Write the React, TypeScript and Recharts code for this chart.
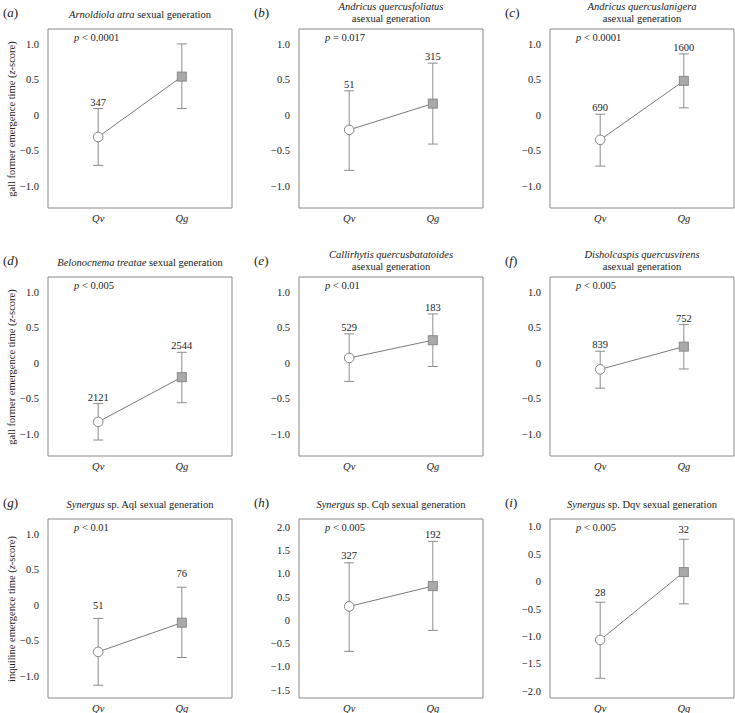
import React from "react";
import { ComposedChart, Line, XAxis, YAxis, ErrorBar, ReferenceArea } from "recharts";

const panelLetters = ["a", "b", "c", "d", "e", "f", "g", "h", "i"];
const titleItalic = [
  "Arnoldiola atra",
  "Andricus quercusfoliatus",
  "Andricus quercuslanigera",
  "Belonocnema treatae",
  "Callirhytis quercusbatatoides",
  "Disholcaspis quercusvirens",
  "Synergus",
  "Synergus",
  "Synergus",
];
const titleRest = [
  " sexual generation",
  "asexual generation",
  "asexual generation",
  " sexual generation",
  "asexual generation",
  "asexual generation",
  " sp. Aql sexual generation",
  " sp. Cqb sexual generation",
  " sp. Dqv sexual generation",
];
const twoLine = [false, true, true, false, true, true, false, false, false];
const pValues = ["< 0.0001", "= 0.017", "< 0.0001", "< 0.005", "< 0.01", "< 0.005", "< 0.01", "< 0.005", "< 0.005"];

const groups = ["Qv", "Qg"];
const meanQv = [-0.31, -0.21, -0.35, -0.83, 0.07, -0.09, -0.66, 0.295, -1.07];
const lowQv = [-0.71, -0.78, -0.72, -1.085, -0.26, -0.355, -1.13, -0.67, -1.77];
const highQv = [0.09, 0.34, 0.01, -0.57, 0.41, 0.165, -0.19, 1.23, -0.38];
const meanQg = [0.54, 0.16, 0.48, -0.2, 0.32, 0.23, -0.25, 0.73, 0.17];
const lowQg = [0.09, -0.41, 0.1, -0.56, -0.05, -0.085, -0.74, -0.22, -0.41];
const highQg = [1.0, 0.73, 0.86, 0.15, 0.69, 0.54, 0.25, 1.69, 0.77];
const nQv = [347, 51, 690, 2121, 529, 839, 51, 327, 28];
const nQg = [null, 315, 1600, 2544, 183, 752, 76, 192, 32];

const stdTicks = [-1, -0.5, 0, 0.5, 1];
const yTicks = [stdTicks, stdTicks, stdTicks, stdTicks, stdTicks, stdTicks, stdTicks,
  [-1.5, -1, -0.5, 0, 0.5, 1, 1.5, 2], [-2, -1.5, -1, -0.5, 0, 0.5, 1]];
const yDomains = [
  [-1.31, 1.21], [-1.31, 1.21], [-1.31, 1.21],
  [-1.31, 1.21], [-1.31, 1.21], [-1.31, 1.21],
  [-1.31, 1.21], [-1.67, 2.17], [-2.13, 1.14],
];
const rowYLabels = ["gall former emergence time", "gall former emergence time", "inquiline emergence time"];

// label distance above whisker cap (px)
const nOffset = [6.5, 6.5, 6.5, 6.5, 6.5, 6.5, 13.5, 7.5, 9.5];

const FONT = '"Liberation Serif", "DejaVu Serif", serif';
const colLeft = [0, 251, 502];
const rowTop = [0, 248, 490];
const BOX_L = 48;
const BOX_T = 29;
const CW = 236;
const CH = 233;
const XMIN = -0.6;
const XMAX = 1.6;

const fmtY = (v: number) => (v === 0 ? "0" : v.toFixed(1).replace("-", "\u2212"));

function Panel({ i }: { i: number }) {
  const data = [
    { x: 0, mean: meanQv[i], high: highQv[i], err: [meanQv[i] - lowQv[i], highQv[i] - meanQv[i]], n: nQv[i] },
    { x: 1, mean: meanQg[i], high: highQg[i], err: [meanQg[i] - lowQg[i], highQg[i] - meanQg[i]], n: nQg[i] },
  ];
  const [ymin, ymax] = yDomains[i];
  const row = Math.floor(i / 3);
  const col = i % 3;
  const boxCx = BOX_L + (CW - 4 - BOX_L) / 2;

  return (
    <div style={{ position: "absolute", left: colLeft[col], top: rowTop[row], width: CW, height: CH }}>
      <ComposedChart width={CW} height={CH} data={data} margin={{ top: BOX_T, right: 4, bottom: 0, left: 0 }}>
        <XAxis
          type="number"
          dataKey="x"
          domain={[XMIN, XMAX]}
          ticks={[0, 1]}
          allowDataOverflow
          axisLine={false}
          tickLine={false}
          tickSize={6}
          tickMargin={1}
          height={25}
          tickFormatter={(v: number) => groups[v]}
          tick={{ fontFamily: FONT, fontSize: 10.5, fontStyle: "italic", fill: "#222" }}
        />
        <YAxis
          type="number"
          domain={[ymin, ymax]}
          ticks={yTicks[i]}
          allowDataOverflow
          axisLine={false}
          tickLine={false}
          tickSize={6}
          tickMargin={3}
          width={BOX_L}
          tickFormatter={fmtY}
          tick={{ fontFamily: FONT, fontSize: 10.5, fill: "#222" }}
        />
        <ReferenceArea x1={XMIN} x2={XMAX} y1={ymin} y2={ymax} fill="none" stroke="#8a8a8a" strokeWidth={1} ifOverflow="visible" />
        <Line dataKey="mean" stroke="#7a7a7a" strokeWidth={1} dot={false} activeDot={false} isAnimationActive={false}>
          <ErrorBar dataKey="err" direction="y" width={5} stroke="#8c8c8c" strokeWidth={1} isAnimationActive={false} />
        </Line>
        <Line
          dataKey="mean"
          stroke="none"
          activeDot={false}
          isAnimationActive={false}
          dot={(p: any) =>
            p.index === 0 ? (
              <circle key={"c" + p.index} cx={p.cx} cy={p.cy} r={4.8} fill="#fff" stroke="#858585" strokeWidth={1} />
            ) : (
              <rect key={"r" + p.index} x={p.cx - 4.5} y={p.cy - 4.5} width={9} height={9} fill="#a9a9a9" stroke="#8a8a8a" strokeWidth={1} />
            )
          }
        />
        <Line
          dataKey="high"
          stroke="none"
          activeDot={false}
          isAnimationActive={false}
          dot={(p: any) =>
            p.payload.n == null ? (
              <g key={"n" + p.index} />
            ) : (
              <text
                key={"n" + p.index}
                x={p.cx}
                y={p.cy - nOffset[i] + 3.7}
                textAnchor="middle"
                fontFamily={FONT}
                fontSize={10.5}
                fill="#222"
              >
                {p.payload.n}
              </text>
            )
          }
        />
      </ComposedChart>

      <div
        style={{
          position: "absolute",
          left: 3,
          top: BOX_T - 24,
          fontFamily: FONT,
          fontSize: 13,
          color: "#222",
          lineHeight: "16px",
          whiteSpace: "nowrap",
        }}
      >
        (<i>{panelLetters[i]}</i>)
      </div>

      <div
        style={{
          position: "absolute",
          left: boxCx - 110,
          width: 220,
          top: twoLine[i] ? BOX_T - 28 : BOX_T - 20,
          textAlign: "center",
          fontFamily: FONT,
          fontSize: 10.5,
          lineHeight: "12px",
          color: "#222",
          whiteSpace: "nowrap",
        }}
      >
        <i>{titleItalic[i]}</i>
        {twoLine[i] ? <br /> : null}
        {titleRest[i]}
      </div>

      <div
        style={{
          position: "absolute",
          left: BOX_L + 26,
          top: BOX_T + 3,
          fontFamily: FONT,
          fontSize: 10.5,
          lineHeight: "12px",
          color: "#222",
          whiteSpace: "nowrap",
        }}
      >
        <i>p</i> {pValues[i]}
      </div>

      {col === 0 ? (
        <div
          style={{
            position: "absolute",
            left: 12,
            top: BOX_T + 89.5,
            width: 220,
            transform: "translate(-50%, -50%) rotate(-90deg)",
            textAlign: "center",
            fontFamily: FONT,
            fontSize: 10.5,
            lineHeight: "12px",
            color: "#222",
            whiteSpace: "nowrap",
          }}
        >
          {rowYLabels[row]} (<i>z</i>-score)
        </div>
      ) : null}
    </div>
  );
}

export default function App() {
  return (
    <div style={{ position: "absolute", left: 0, top: 0, width: 735, height: 713, background: "#fff" }}>
      {panelLetters.map((_, i) => (
        <Panel key={i} i={i} />
      ))}
    </div>
  );
}
